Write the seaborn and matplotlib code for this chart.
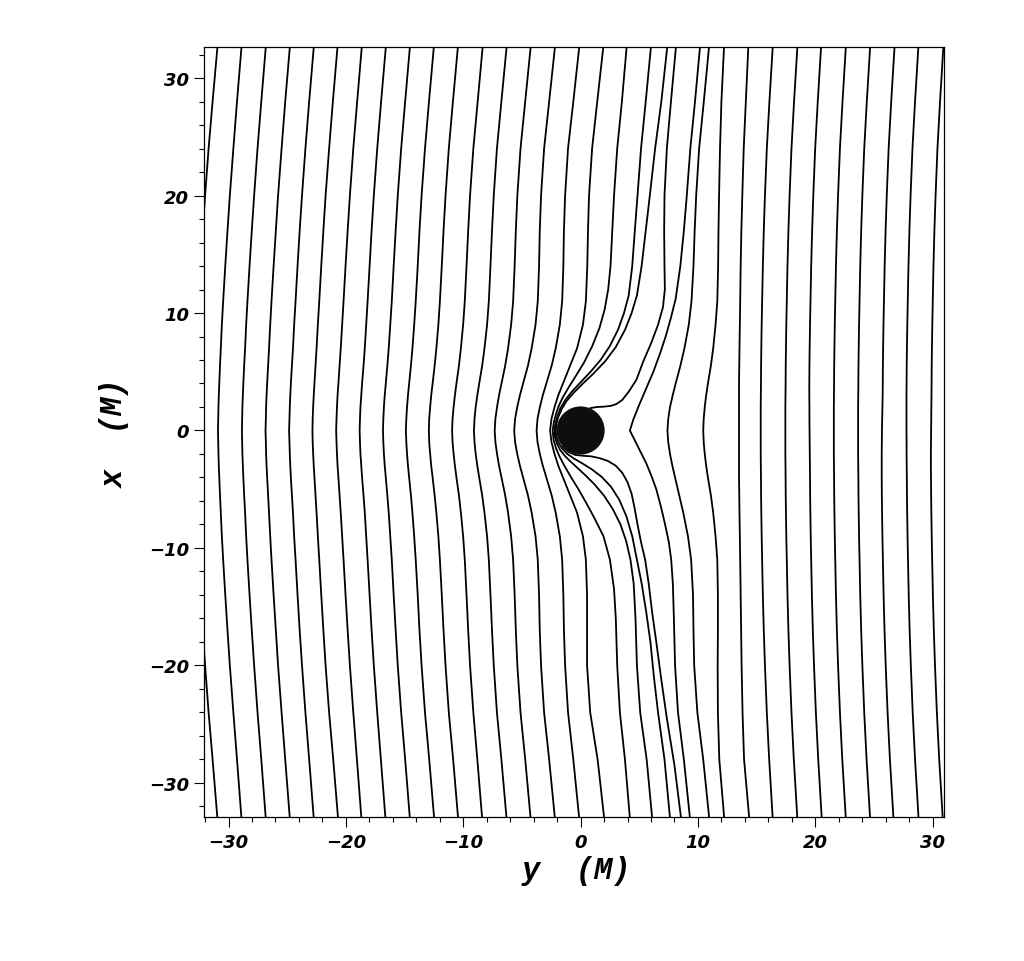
import numpy as np
import pandas as pd
import matplotlib
matplotlib.use("Agg")
import matplotlib.pyplot as plt
import seaborn as sns
from matplotlib.patches import Circle
from matplotlib.ticker import MultipleLocator

# ---------------- data ----------------
# vertical sample levels, x (M)
Y_GRID = [32.6, 28, 24, 20, 17, 14, 11, 9, 7, 5.5, 4, 3, 2, 1, 0,
          -1, -2, -3, -4, -5.5, -7, -9, -11, -14, -17, -20, -24, -28, -33]

# field lines left of the hole: y (M) at each Y_GRID level
LEFT_LINES = [
    [-30.95, -31.36, -31.70, -32.00, -32.20, -32.36, -32.51, -32.62, -32.71, -32.78, -32.84, -32.88, -32.91, -32.93, -32.95,
     -32.93, -32.91, -32.88, -32.84, -32.78, -32.71, -32.62, -32.51, -32.36, -32.20, -32.00, -31.70, -31.36, -30.95],
    [-28.90, -29.28, -29.59, -29.89, -30.09, -30.28, -30.46, -30.57, -30.66, -30.73, -30.79, -30.83, -30.86, -30.88, -30.90,
     -30.88, -30.86, -30.83, -30.79, -30.73, -30.66, -30.57, -30.46, -30.28, -30.09, -29.89, -29.59, -29.28, -28.90],
    [-26.83, -27.21, -27.53, -27.82, -28.02, -28.21, -28.39, -28.50, -28.59, -28.67, -28.74, -28.78, -28.82, -28.84, -28.86,
     -28.84, -28.82, -28.78, -28.74, -28.67, -28.59, -28.50, -28.39, -28.21, -28.02, -27.82, -27.53, -27.21, -26.83],
    [-24.78, -25.17, -25.48, -25.78, -25.97, -26.16, -26.34, -26.45, -26.55, -26.63, -26.71, -26.76, -26.80, -26.82, -26.85,
     -26.82, -26.80, -26.76, -26.71, -26.63, -26.55, -26.45, -26.34, -26.16, -25.97, -25.78, -25.48, -25.17, -24.78],
    [-22.74, -23.13, -23.45, -23.74, -23.94, -24.12, -24.29, -24.41, -24.51, -24.60, -24.69, -24.74, -24.78, -24.81, -24.84,
     -24.81, -24.78, -24.74, -24.69, -24.60, -24.51, -24.41, -24.29, -24.12, -23.94, -23.74, -23.45, -23.13, -22.74],
    [-20.72, -21.11, -21.43, -21.73, -21.92, -22.10, -22.27, -22.39, -22.50, -22.59, -22.68, -22.74, -22.79, -22.83, -22.85,
     -22.83, -22.79, -22.74, -22.68, -22.59, -22.50, -22.39, -22.27, -22.10, -21.92, -21.73, -21.43, -21.08, -20.67],
    [-18.65, -19.04, -19.37, -19.66, -19.85, -20.03, -20.20, -20.32, -20.44, -20.54, -20.64, -20.71, -20.76, -20.80, -20.83,
     -20.80, -20.76, -20.71, -20.64, -20.54, -20.44, -20.32, -20.20, -20.03, -19.85, -19.66, -19.37, -19.06, -18.68],
    [-16.60, -17.00, -17.33, -17.62, -17.81, -17.98, -18.15, -18.27, -18.39, -18.50, -18.62, -18.69, -18.76, -18.80, -18.83,
     -18.80, -18.76, -18.69, -18.62, -18.50, -18.39, -18.27, -18.15, -17.98, -17.81, -17.62, -17.33, -17.02, -16.63],
    [-14.55, -14.95, -15.29, -15.58, -15.76, -15.93, -16.09, -16.22, -16.35, -16.47, -16.60, -16.69, -16.76, -16.81, -16.84,
     -16.81, -16.76, -16.69, -16.60, -16.47, -16.35, -16.22, -16.09, -15.93, -15.76, -15.58, -15.29, -14.95, -14.55],
    [-12.51, -12.92, -13.26, -13.55, -13.73, -13.88, -14.05, -14.18, -14.33, -14.46, -14.61, -14.71, -14.79, -14.85, -14.89,
     -14.85, -14.79, -14.71, -14.61, -14.46, -14.33, -14.18, -14.05, -13.88, -13.73, -13.55, -13.26, -12.90, -12.48],
    [-10.46, -10.88, -11.23, -11.51, -11.68, -11.83, -11.99, -12.12, -12.29, -12.44, -12.61, -12.73, -12.82, -12.90, -12.93,
     -12.90, -12.82, -12.73, -12.61, -12.44, -12.29, -12.12, -11.99, -11.83, -11.68, -11.51, -11.23, -10.86, -10.44],
    [-8.35, -8.77, -9.14, -9.42, -9.58, -9.72, -9.87, -10.01, -10.20, -10.37, -10.58, -10.71, -10.82, -10.91, -10.95,
     -10.91, -10.82, -10.71, -10.58, -10.37, -10.20, -10.01, -9.87, -9.72, -9.58, -9.42, -9.14, -8.80, -8.39],
    [-6.31, -6.75, -7.13, -7.40, -7.55, -7.68, -7.82, -7.97, -8.19, -8.39, -8.64, -8.80, -8.94, -9.04, -9.09,
     -9.04, -8.94, -8.80, -8.64, -8.39, -8.19, -7.97, -7.82, -7.68, -7.55, -7.40, -7.13, -6.75, -6.31],
    [-4.26, -4.72, -5.12, -5.39, -5.52, -5.62, -5.75, -5.92, -6.18, -6.43, -6.74, -6.95, -7.12, -7.26, -7.32,
     -7.26, -7.12, -6.95, -6.74, -6.43, -6.18, -5.92, -5.75, -5.62, -5.52, -5.39, -5.12, -4.72, -4.26],
    [-2.19, -2.68, -3.11, -3.37, -3.48, -3.54, -3.65, -3.84, -4.17, -4.49, -4.90, -5.17, -5.40, -5.58, -5.66,
     -5.58, -5.40, -5.17, -4.90, -4.49, -4.17, -3.84, -3.65, -3.54, -3.48, -3.37, -3.11, -2.68, -2.19],
    [-0.12, -0.62, -1.07, -1.32, -1.42, -1.47, -1.57, -1.77, -2.12, -2.47, -2.92, -3.22, -3.47, -3.67, -3.75,
     -3.67, -3.47, -3.22, -2.92, -2.47, -2.12, -1.77, -1.57, -1.47, -1.42, -1.32, -1.07, -0.62, -0.12],
]

# lines near the hole that still follow the common levels
CENTER_LINES = [
    [1.93, 1.42, 0.98, 0.72, 0.63, 0.57, 0.45, 0.20, -0.30, -0.90, -1.50, -1.90, -2.22, -2.48, -2.60,
     -2.48, -2.22, -1.90, -1.50, -0.90, -0.30, 0.20, 0.45, 0.55, 0.55, 0.55, 0.82, 1.45, 2.01],
    [10.94, 10.50, 10.10, 9.85, 9.72, 9.62, 9.45, 9.22, 8.85, 8.50, 8.10, 7.85, 7.62, 7.47, 7.40,
     7.47, 7.62, 7.82, 8.05, 8.40, 8.75, 9.15, 9.42, 9.58, 9.62, 9.68, 9.95, 10.45, 10.96],
    [12.22, 12.00, 11.88, 11.80, 11.75, 11.72, 11.65, 11.50, 11.30, 11.10, 10.85, 10.70, 10.58, 10.49, 10.45,
     10.49, 10.58, 10.70, 10.85, 11.10, 11.30, 11.50, 11.65, 11.70, 11.70, 11.68, 11.70, 11.82, 12.24],
    [14.29, 14.08, 13.90, 13.78, 13.70, 13.64, 13.60, 13.57, 13.54, 13.52, 13.50, 13.50, 13.50, 13.50, 13.50,
     13.50, 13.50, 13.50, 13.50, 13.52, 13.54, 13.57, 13.60, 13.64, 13.68, 13.72, 13.80, 13.93, 14.37],
]

# field lines on the right
RIGHT_LINES = [
    [16.37, 16.09, 15.87, 15.71, 15.61, 15.53, 15.47, 15.43, 15.40, 15.38, 15.37, 15.36, 15.35, 15.35, 15.35,
     15.35, 15.35, 15.36, 15.37, 15.38, 15.40, 15.43, 15.47, 15.53, 15.61, 15.71, 15.87, 16.07, 16.37],
    [18.47, 18.19, 17.97, 17.81, 17.71, 17.63, 17.57, 17.53, 17.50, 17.48, 17.47, 17.46, 17.45, 17.45, 17.45,
     17.45, 17.45, 17.46, 17.47, 17.48, 17.50, 17.53, 17.57, 17.63, 17.71, 17.81, 17.97, 18.17, 18.47],
    [20.49, 20.21, 19.99, 19.83, 19.73, 19.65, 19.59, 19.55, 19.52, 19.50, 19.49, 19.49, 19.50, 19.50, 19.51,
     19.52, 19.53, 19.54, 19.55, 19.56, 19.58, 19.61, 19.65, 19.71, 19.79, 19.89, 20.05, 20.25, 20.55],
    [22.60, 22.32, 22.10, 21.94, 21.84, 21.76, 21.70, 21.66, 21.63, 21.61, 21.60, 21.59, 21.58, 21.58, 21.58,
     21.58, 21.58, 21.59, 21.60, 21.61, 21.63, 21.66, 21.70, 21.76, 21.84, 21.94, 22.10, 22.30, 22.60],
    [24.67, 24.39, 24.17, 24.01, 23.91, 23.83, 23.77, 23.73, 23.70, 23.68, 23.67, 23.66, 23.65, 23.65, 23.65,
     23.65, 23.65, 23.66, 23.67, 23.68, 23.70, 23.73, 23.77, 23.83, 23.91, 24.01, 24.17, 24.37, 24.67],
    [26.75, 26.47, 26.25, 26.09, 25.99, 25.91, 25.85, 25.81, 25.78, 25.76, 25.75, 25.74, 25.72, 25.70, 25.68,
     25.67, 25.66, 25.66, 25.66, 25.67, 25.69, 25.72, 25.76, 25.82, 25.90, 26.00, 26.16, 26.36, 26.66],
    [28.78, 28.50, 28.28, 28.12, 28.02, 27.94, 27.88, 27.84, 27.81, 27.79, 27.78, 27.77, 27.77, 27.77, 27.77,
     27.78, 27.78, 27.79, 27.80, 27.81, 27.83, 27.86, 27.90, 27.96, 28.04, 28.14, 28.30, 28.50, 28.80],
    [30.91, 30.63, 30.41, 30.25, 30.15, 30.07, 30.01, 29.97, 29.94, 29.92, 29.91, 29.90, 29.89, 29.88, 29.87,
     29.86, 29.85, 29.85, 29.86, 29.87, 29.89, 29.92, 29.96, 30.02, 30.10, 30.20, 30.36, 30.56, 30.86],
]

# lines hugging the hole, each with its own sample levels
HUG1_Y = [32.6, 28, 24, 20, 17, 14, 12, 10.3, 8.7, 7.2, 5.8, 4.65, 3.7, 2.85, 2.1, 1.4, 0.7, 0.0,
          -0.8, -1.5, -2.2, -3.0, -4.0, -5.0, -6.2, -7.5, -9.0, -11.0, -13.5, -16, -20, -24, -28, -33]
HUG1_X = [3.92, 3.52, 3.12, 2.85, 2.70, 2.55, 2.35, 2.05, 1.60, 1.00, 0.30, -0.40, -1.00, -1.50, -1.86, -2.10, -2.28, -2.38,
          -2.30, -2.10, -1.80, -1.38, -0.80, -0.18, 0.50, 1.20, 1.95, 2.50, 2.85, 3.00, 3.12, 3.35, 3.78, 4.20]
HUG2_Y = [32.6, 28, 24, 20, 17, 14, 11.5, 10.0, 8.6, 7.2, 6.0, 5.0, 4.1, 3.3, 2.6, 1.9, 1.2, 0.55, 0.0,
          -0.55, -1.1, -1.65, -2.15, -2.65, -3.2, -3.85, -4.6, -5.55, -6.7, -8.0, -9.4, -11.0, -13, -16, -20, -24, -28, -33]
HUG2_X = [5.99, 5.55, 5.15, 4.85, 4.62, 4.40, 4.10, 3.70, 3.20, 2.50, 1.70, 0.85, 0.00, -0.75, -1.30, -1.72, -1.98, -2.15, -2.22,
          -2.18, -2.02, -1.75, -1.35, -0.85, -0.25, 0.45, 1.20, 2.00, 2.75, 3.40, 3.88, 4.25, 4.52, 4.68, 4.80, 5.08, 5.63, 6.10]
HUG3_Y = [32.6, 28, 24, 20, 17, 14, 11.5, 10.0, 8.6, 7.1, 5.9, 4.85, 4.0, 3.2, 2.5, 1.8, 1.1, 0.5, 0.0,
          -0.5, -1.0, -1.5, -1.98, -2.4, -2.8, -3.3, -3.95, -4.8, -5.9, -7.3, -9.0, -11.0, -13, -15.5, -18, -21, -24, -28, -33]
HUG3_X = [7.38, 6.88, 6.35, 5.90, 5.55, 5.20, 4.80, 4.35, 3.80, 3.00, 2.10, 1.10, 0.20, -0.60, -1.20, -1.62, -1.92, -2.08, -2.12,
          -2.07, -1.90, -1.60, -1.15, -0.55, 0.15, 0.95, 1.80, 2.60, 3.30, 3.90, 4.40, 4.80, 5.20, 5.60, 5.95, 6.25, 6.60, 7.15, 7.62]
# line ending on the horizon (from the top)
END_Y = [32.6, 28, 24, 20, 17, 14, 12, 10.5, 9.0, 7.4, 5.9, 4.3, 3.3, 2.6, 2.25, 2.1, 2.03, 2.0, 1.9]
END_X = [8.12, 7.70, 7.35, 7.15, 7.12, 7.15, 7.18, 7.02, 6.60, 6.00, 5.35, 4.75, 4.10, 3.55, 3.05, 2.60, 2.00, 1.40, 0.80]
# line leaving the horizon (to the bottom)
EMERGE_Y = [-1.34, -1.82, -2.08, -2.15, -2.2, -2.35, -2.6, -3.0, -3.6, -4.4, -5.4, -6.6, -8.0, -9.5, -11.0,
            -13, -15.5, -18, -21, -24.5, -28.5, -33]
EMERGE_X = [-1.55, -1.05, -0.45, 0.20, 0.90, 1.60, 2.35, 3.00, 3.55, 4.00, 4.35, 4.60, 4.85, 5.15, 5.50,
            5.80, 6.10, 6.45, 6.85, 7.35, 8.00, 8.56]
# kinked separatrix line
KINK_Y = [32.6, 28, 24, 20, 17, 14, 11.2, 9.6, 8.0, 6.5, 5.0, 3.6, 2.2, 0.95, 0.0,
          -0.8, -1.8, -2.8, -3.9, -5.0, -6.5, -8.0, -9.5, -11.0, -13, -16, -20, -24, -28, -33]
KINK_X = [10.17, 9.75, 9.35, 9.05, 8.80, 8.50, 8.10, 7.70, 7.25, 6.75, 6.20, 5.60, 5.00, 4.50, 4.20,
          4.60, 5.10, 5.60, 6.05, 6.45, 6.85, 7.20, 7.52, 7.72, 7.86, 7.95, 8.05, 8.30, 8.80, 9.32]

HOLE_CENTER = (0.0, 0.0)
HOLE_RADIUS = 2.05

X_TICKS = [-30, -20, -10, 0, 10, 20, 30]
Y_TICKS = [-30, -20, -10, 0, 10, 20, 30]
X_LABEL = "y  (M)"
Y_LABEL = "x  (M)"

# ---------------- build table ----------------
frames = []
def add(name, xs, ys):
    frames.append(pd.DataFrame({"h": xs, "v": ys, "line": name, "k": np.arange(len(xs))}))

for i, xs in enumerate(LEFT_LINES):
    add(f"L{i}", xs, Y_GRID)
for i, xs in enumerate(CENTER_LINES):
    add(f"C{i}", xs, Y_GRID)
for i, xs in enumerate(RIGHT_LINES):
    add(f"R{i}", xs, Y_GRID)
add("H1", HUG1_X, HUG1_Y)
add("H2", HUG2_X, HUG2_Y)
add("H3", HUG3_X, HUG3_Y)
add("END", END_X, END_Y)
add("EMERGE", EMERGE_X, EMERGE_Y)
add("KINK", KINK_X, KINK_Y)
df = pd.concat(frames, ignore_index=True)

# ---------------- plot ----------------
sns.set_style("ticks", {"axes.edgecolor": "black", "text.color": "black",
                        "xtick.color": "black", "ytick.color": "black",
                        "axes.labelcolor": "black"})
plt.rcParams["font.family"] = ["DejaVu Sans"]

fig = plt.figure(figsize=(10.24, 9.62), dpi=100)
ax = fig.add_axes([0.1997, 0.1494, 0.7222, 0.8007])

sns.lineplot(data=df, x="h", y="v", units="line", estimator=None, sort=False,
             color="black", linewidth=1.3, ax=ax, legend=False)

ax.add_patch(Circle(HOLE_CENTER, HOLE_RADIUS, facecolor="#0e0e0e", edgecolor="none", zorder=5))

ax.set_xlim(-32.05, 30.97)
ax.set_ylim(-32.92, 32.64)

ax.set_xticks(X_TICKS)
ax.set_yticks(Y_TICKS)
ax.xaxis.set_minor_locator(MultipleLocator(2))
ax.yaxis.set_minor_locator(MultipleLocator(2))
ax.tick_params(which="major", direction="out", length=7.2, width=0.8, pad=4,
               top=False, right=False, labelsize=13, colors="black")
ax.tick_params(which="minor", direction="out", length=3.8, width=0.8,
               top=False, right=False, colors="black")
for lab in ax.get_xticklabels() + ax.get_yticklabels():
    lab.set_fontweight("bold")
    lab.set_fontstyle("italic")
    lab.set_color("black")

for s in ax.spines.values():
    s.set_linewidth(0.9)
    s.set_color("black")

ax.set_xlabel(X_LABEL, fontsize=22, fontweight="bold", fontstyle="italic",
              family=["Liberation Mono", "DejaVu Sans Mono"], color="black")
ax.set_ylabel(Y_LABEL, fontsize=22, fontweight="bold", fontstyle="italic",
              family=["Liberation Mono", "DejaVu Sans Mono"], color="black")
ax.xaxis.set_label_coords(0.503, -0.068)
ax.xaxis.label.set_va("center")
ax.yaxis.set_label_coords(-0.121, 0.50)
ax.yaxis.label.set_va("center")

fig.savefig("out.png", dpi=100)
